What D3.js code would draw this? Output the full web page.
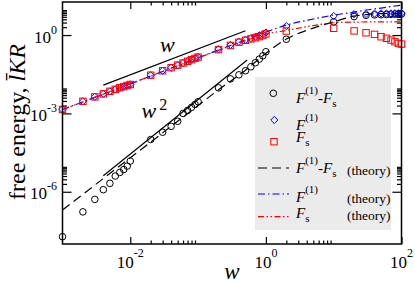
<!DOCTYPE html>
<html><head><meta charset="utf-8">
<script src="https://cdn.jsdelivr.net/npm/d3@7"></script>
<style>body{margin:0;background:#fff}svg{display:block}text{font-family:"Liberation Serif","Times New Roman",serif;fill:#000}</style>
</head><body><svg id="c" width="415" height="283"></svg>
<script>
// ---- data ----
const wVals = [0.001,0.002,0.003,0.004,0.005,0.006,0.007,0.008,0.009,0.01,
  0.02,0.03,0.04,0.05,0.06,0.07,0.08,0.09,0.1,
  0.2,0.3,0.4,0.5,0.6,0.7,0.8,0.9,1,
  2,10,20,30,40,50,60,70,80,90,100];
const fDiff = [1.9e-8,1.7e-7,5.1e-7,1.2e-6,2.1e-6,4.0e-6,5.5e-6,7.1e-6,9.6e-6,1.5e-5,
  1.0e-4,1.9e-4,3.2e-4,5.0e-4,1.0e-3,1.3e-3,1.7e-3,2.2e-3,2.8e-3,
  9.5e-3,0.021,0.030,0.043,0.061,0.087,0.12,0.16,0.23,
  0.69,3.2,5.1,5.7,5.9,6.0,6.1,6.2,6.3,6.35,6.4];
const f1 = [1.42e-3,2.9e-3,4.3e-3,5.6e-3,7.0e-3,8.3e-3,9.6e-3,1.06e-2,1.17e-2,1.28e-2,
  0.029,0.043,0.056,0.070,0.085,0.100,0.115,0.130,0.145,
  0.285,0.415,0.55,0.66,0.76,0.86,0.97,1.08,1.25,
  2.2,5.35,6.3,6.4,6.6,6.7,6.7,6.75,6.8,6.8,6.85];
const fs = [1.42e-3,2.9e-3,4.3e-3,5.6e-3,7.0e-3,8.3e-3,9.6e-3,1.06e-2,1.17e-2,1.28e-2,
  0.029,0.043,0.056,0.070,0.085,0.099,0.114,0.128,0.143,
  0.276,0.40,0.53,0.63,0.71,0.79,0.87,0.96,1.1,
  1.42,1.81,1.44,1.22,1.06,0.86,0.75,0.64,0.55,0.48,0.45];
const thW    = [0.001,0.01,0.1,0.2,0.5,1,2,5,10,20,30,50,100];
const thDiff = [2.0e-7,2.0e-5,2.0e-3,8.0e-3,0.045,0.2,0.70,1.85,3.2,5.3,6.1,6.6,6.8];
const thF1   = [1.4e-3,1.35e-2,0.135,0.27,0.65,1.3,2.4,4.1,5.8,7.5,9.1,10.8,14.1];
const thFs   = [1.4e-3,1.35e-2,0.133,0.26,0.61,1.1,1.5,2.3,2.95,3.12,3.18,3.2,3.2];
const refSlope1W = [0.004,0.5],  refSlope1F = [0.0121,1.46];
const refSlope2W = [0.004,0.53], refSlope2F = [4.1e-6,0.11];
const xMajor = [1e-2,1,1e2], xMajorExp = ["-2","0","2"];
const yMajor = [1e-6,1e-3,1], yMajorExp = ["-6","-3","0"];
const xMinorBases = [1e-2,1], yMinorBases = [1e-6,1e-3,1];
const minorMult = [2,3,4,5,6,7,8,9];

// ---- layout ----
const L=62.5,R=401.5,T=2,B=244;
const svg=d3.select("#c");
const x=d3.scaleLog().domain([1e-3,1e2]).range([L,R]);
const y=d3.scaleLog().domain([1e-8,Math.pow(10,1.265)]).range([B,T]);

svg.append("defs").append("clipPath").attr("id","clip").append("rect")
  .attr("x",L).attr("y",T).attr("width",R-L).attr("height",B-T);

const minorX=[];xMinorBases.forEach(b=>minorMult.forEach(m=>minorX.push(b*m)));
const minorY=[];yMinorBases.forEach(b=>minorMult.forEach(m=>{const v=b*m; if(v<y.domain()[1]) minorY.push(v);}));

function axisG(axis, tr){ const g=svg.append("g").attr("transform",tr).call(axis);
  g.select(".domain").remove(); g.selectAll("text").remove();
  g.selectAll("line").attr("stroke","#000").attr("stroke-width",1.2); return g;}
axisG(d3.axisBottom(x).tickValues(xMajor).tickSize(-7),`translate(0,${B})`);
axisG(d3.axisBottom(x).tickValues(minorX).tickSize(-3.5),`translate(0,${B})`);
axisG(d3.axisTop(x).tickValues(xMajor).tickSize(-7),`translate(0,${T})`);
axisG(d3.axisTop(x).tickValues(minorX).tickSize(-3.5),`translate(0,${T})`);
axisG(d3.axisLeft(y).tickValues(yMajor).tickSize(-9),`translate(${L},0)`);
axisG(d3.axisLeft(y).tickValues(minorY).tickSize(-4.5),`translate(${L},0)`);
axisG(d3.axisRight(y).tickValues(yMajor).tickSize(-9),`translate(${R},0)`);
axisG(d3.axisRight(y).tickValues(minorY).tickSize(-4.5),`translate(${R},0)`);

// tick labels
xMajor.forEach((v,i)=>{
  const t=svg.append("text").attr("x",x(v)).attr("y",268).attr("text-anchor","middle").style("font-size","17px");
  t.append("tspan").text("10");
  t.append("tspan").attr("dy",-11).style("font-size","12px").text(xMajorExp[i]);
});
yMajor.forEach((v,i)=>{
  const t=svg.append("text").attr("x",57).attr("y",y(v)+7.5).attr("text-anchor","end").style("font-size","17px");
  t.append("tspan").text("10");
  t.append("tspan").attr("dy",-9).style("font-size","12px").text(yMajorExp[i]);
});

// axis titles
svg.append("text").attr("x",x(Math.sqrt(1e-3*1e2))).attr("y",278.5).attr("text-anchor","middle")
  .style("font-size","23px").style("font-style","italic").text("w");
const yt=svg.append("text").attr("transform","translate(25,122) rotate(-90)").attr("text-anchor","middle").style("font-size","24px");
yt.append("tspan").text("free energy, ");
yt.append("tspan").style("font-style","italic").text("l\u0304KR");

// plot group
const g=svg.append("g").attr("clip-path","url(#clip)");
const line=d3.line().x(d=>x(d[0])).y(d=>y(d[1])).curve(d3.curveMonotoneX);
const zip=(a,b)=>a.map((v,i)=>[v,b[i]]);

// reference lines
g.append("path").attr("d",d3.line().x(d=>x(d[0])).y(d=>y(d[1]))(zip(refSlope1W,refSlope1F))).attr("fill","none").attr("stroke","#000").attr("stroke-width",1.2);
g.append("path").attr("d",d3.line().x(d=>x(d[0])).y(d=>y(d[1]))(zip(refSlope2W,refSlope2F))).attr("fill","none").attr("stroke","#000").attr("stroke-width",1.2);

// theory lines
g.append("path").attr("d",line(zip(thW,thDiff))).attr("fill","none").attr("stroke","#000").attr("stroke-width",1.2).attr("stroke-dasharray","9,5");
g.append("path").attr("d",line(zip(thW,thF1))).attr("fill","none").attr("stroke","#0000ff").attr("stroke-width",1.2).attr("stroke-dasharray","7,3,1.5,3");
g.append("path").attr("d",line(zip(thW,thFs))).attr("fill","none").attr("stroke","#ff0000").attr("stroke-width",1.2).attr("stroke-dasharray","6,2.5,1.5,2.5,1.5,2.5");

// markers
const sym=svg.append("g");
wVals.forEach((w,i)=>{
  sym.append("circle").attr("cx",x(w)).attr("cy",y(fDiff[i])).attr("r",3.3).attr("fill","none").attr("stroke","#000").attr("stroke-width",1);
});
wVals.forEach((w,i)=>{
  const cx=x(w),cy=y(f1[i]);
  sym.append("path").attr("d",`M${cx},${cy-3.6}L${cx+3.6},${cy}L${cx},${cy+3.6}L${cx-3.6},${cy}Z`).attr("fill","none").attr("stroke","#0000ff").attr("stroke-width",1);
});
wVals.forEach((w,i)=>{
  sym.append("rect").attr("x",x(w)-3.2).attr("y",y(fs[i])-3.2).attr("width",6.4).attr("height",6.4).attr("fill","none").attr("stroke","#ff0000").attr("stroke-width",1);
});

// annotations
svg.append("text").attr("x",160).attr("y",51.7).style("font-size","22px").style("font-style","italic").text("w");
const a2=svg.append("text").attr("x",141.5).attr("y",118.3).style("font-size","22px");
a2.append("tspan").style("font-style","italic").text("w");
a2.append("tspan").attr("dx",3).attr("dy",-8).style("font-size","16px").text("2");

// legend
const lg=svg.append("g");
lg.append("rect").attr("x",255).attr("y",77).attr("width",136).attr("height",153).attr("fill","#ebebeb");
lg.append("circle").attr("cx",273.3).attr("cy",93.3).attr("r",3.3).attr("fill","none").attr("stroke","#000");
lg.append("path").attr("d","M274.3,116.4L277.9,120L274.3,123.6L270.7,120Z").attr("fill","none").attr("stroke","#0000ff");
lg.append("rect").attr("x",270.8).attr("y",138.5).attr("width",6.4).attr("height",6.4).attr("fill","none").attr("stroke","#ff0000");
lg.append("line").attr("x1",258).attr("x2",289).attr("y1",168).attr("y2",168).attr("stroke","#000").attr("stroke-width",1.2).attr("stroke-dasharray","9,5");
lg.append("line").attr("x1",258).attr("x2",289).attr("y1",194).attr("y2",194).attr("stroke","#0000ff").attr("stroke-width",1.2).attr("stroke-dasharray","7,3,1.5,3");
lg.append("line").attr("x1",258).attr("x2",289).attr("y1",216.7).attr("y2",216.7).attr("stroke","#ff0000").attr("stroke-width",1.2).attr("stroke-dasharray","6,2.5,1.5,2.5,1.5,2.5");

function rich(xp,yp,parts){
  const t=lg.append("text").attr("x",xp).attr("y",yp).style("font-size","15px");
  let cur=0;
  parts.forEach(p=>{
    const s=t.append("tspan").text(p.t);
    let target=0, fsz=15;
    if(p.k==="sup"){target=-9;fsz=11;}
    if(p.k==="sub"){target=4;fsz=11;}
    s.attr("dy",target-cur).style("font-size",fsz+"px");
    if(p.it) s.style("font-style","italic");
    cur=target;
  });
  return t;
}
const labDiff=[{t:"F",it:1},{t:"(1)",k:"sup"},{t:"-",k:""},{t:"F",it:1},{t:"s",k:"sub"}];
rich(296,103.3,labDiff);
rich(296,129.5,[{t:"F",it:1},{t:"(1)",k:"sup"}]);
rich(296,142,[{t:"F",it:1},{t:"s",k:"sub"}]);
rich(296,173.3,labDiff);
rich(296,201.7,[{t:"F",it:1},{t:"(1)",k:"sup"}]);
rich(296,218,[{t:"F",it:1},{t:"s",k:"sub"}]);
[175,203,220].forEach(yy=>lg.append("text").attr("x",347).attr("y",yy).style("font-size","13.5px").text("(theory)"));

// frame
svg.append("rect").attr("x",L).attr("y",T).attr("width",R-L).attr("height",B-T).attr("fill","none").attr("stroke","#000").attr("stroke-width",1.5);
</script></body></html>
